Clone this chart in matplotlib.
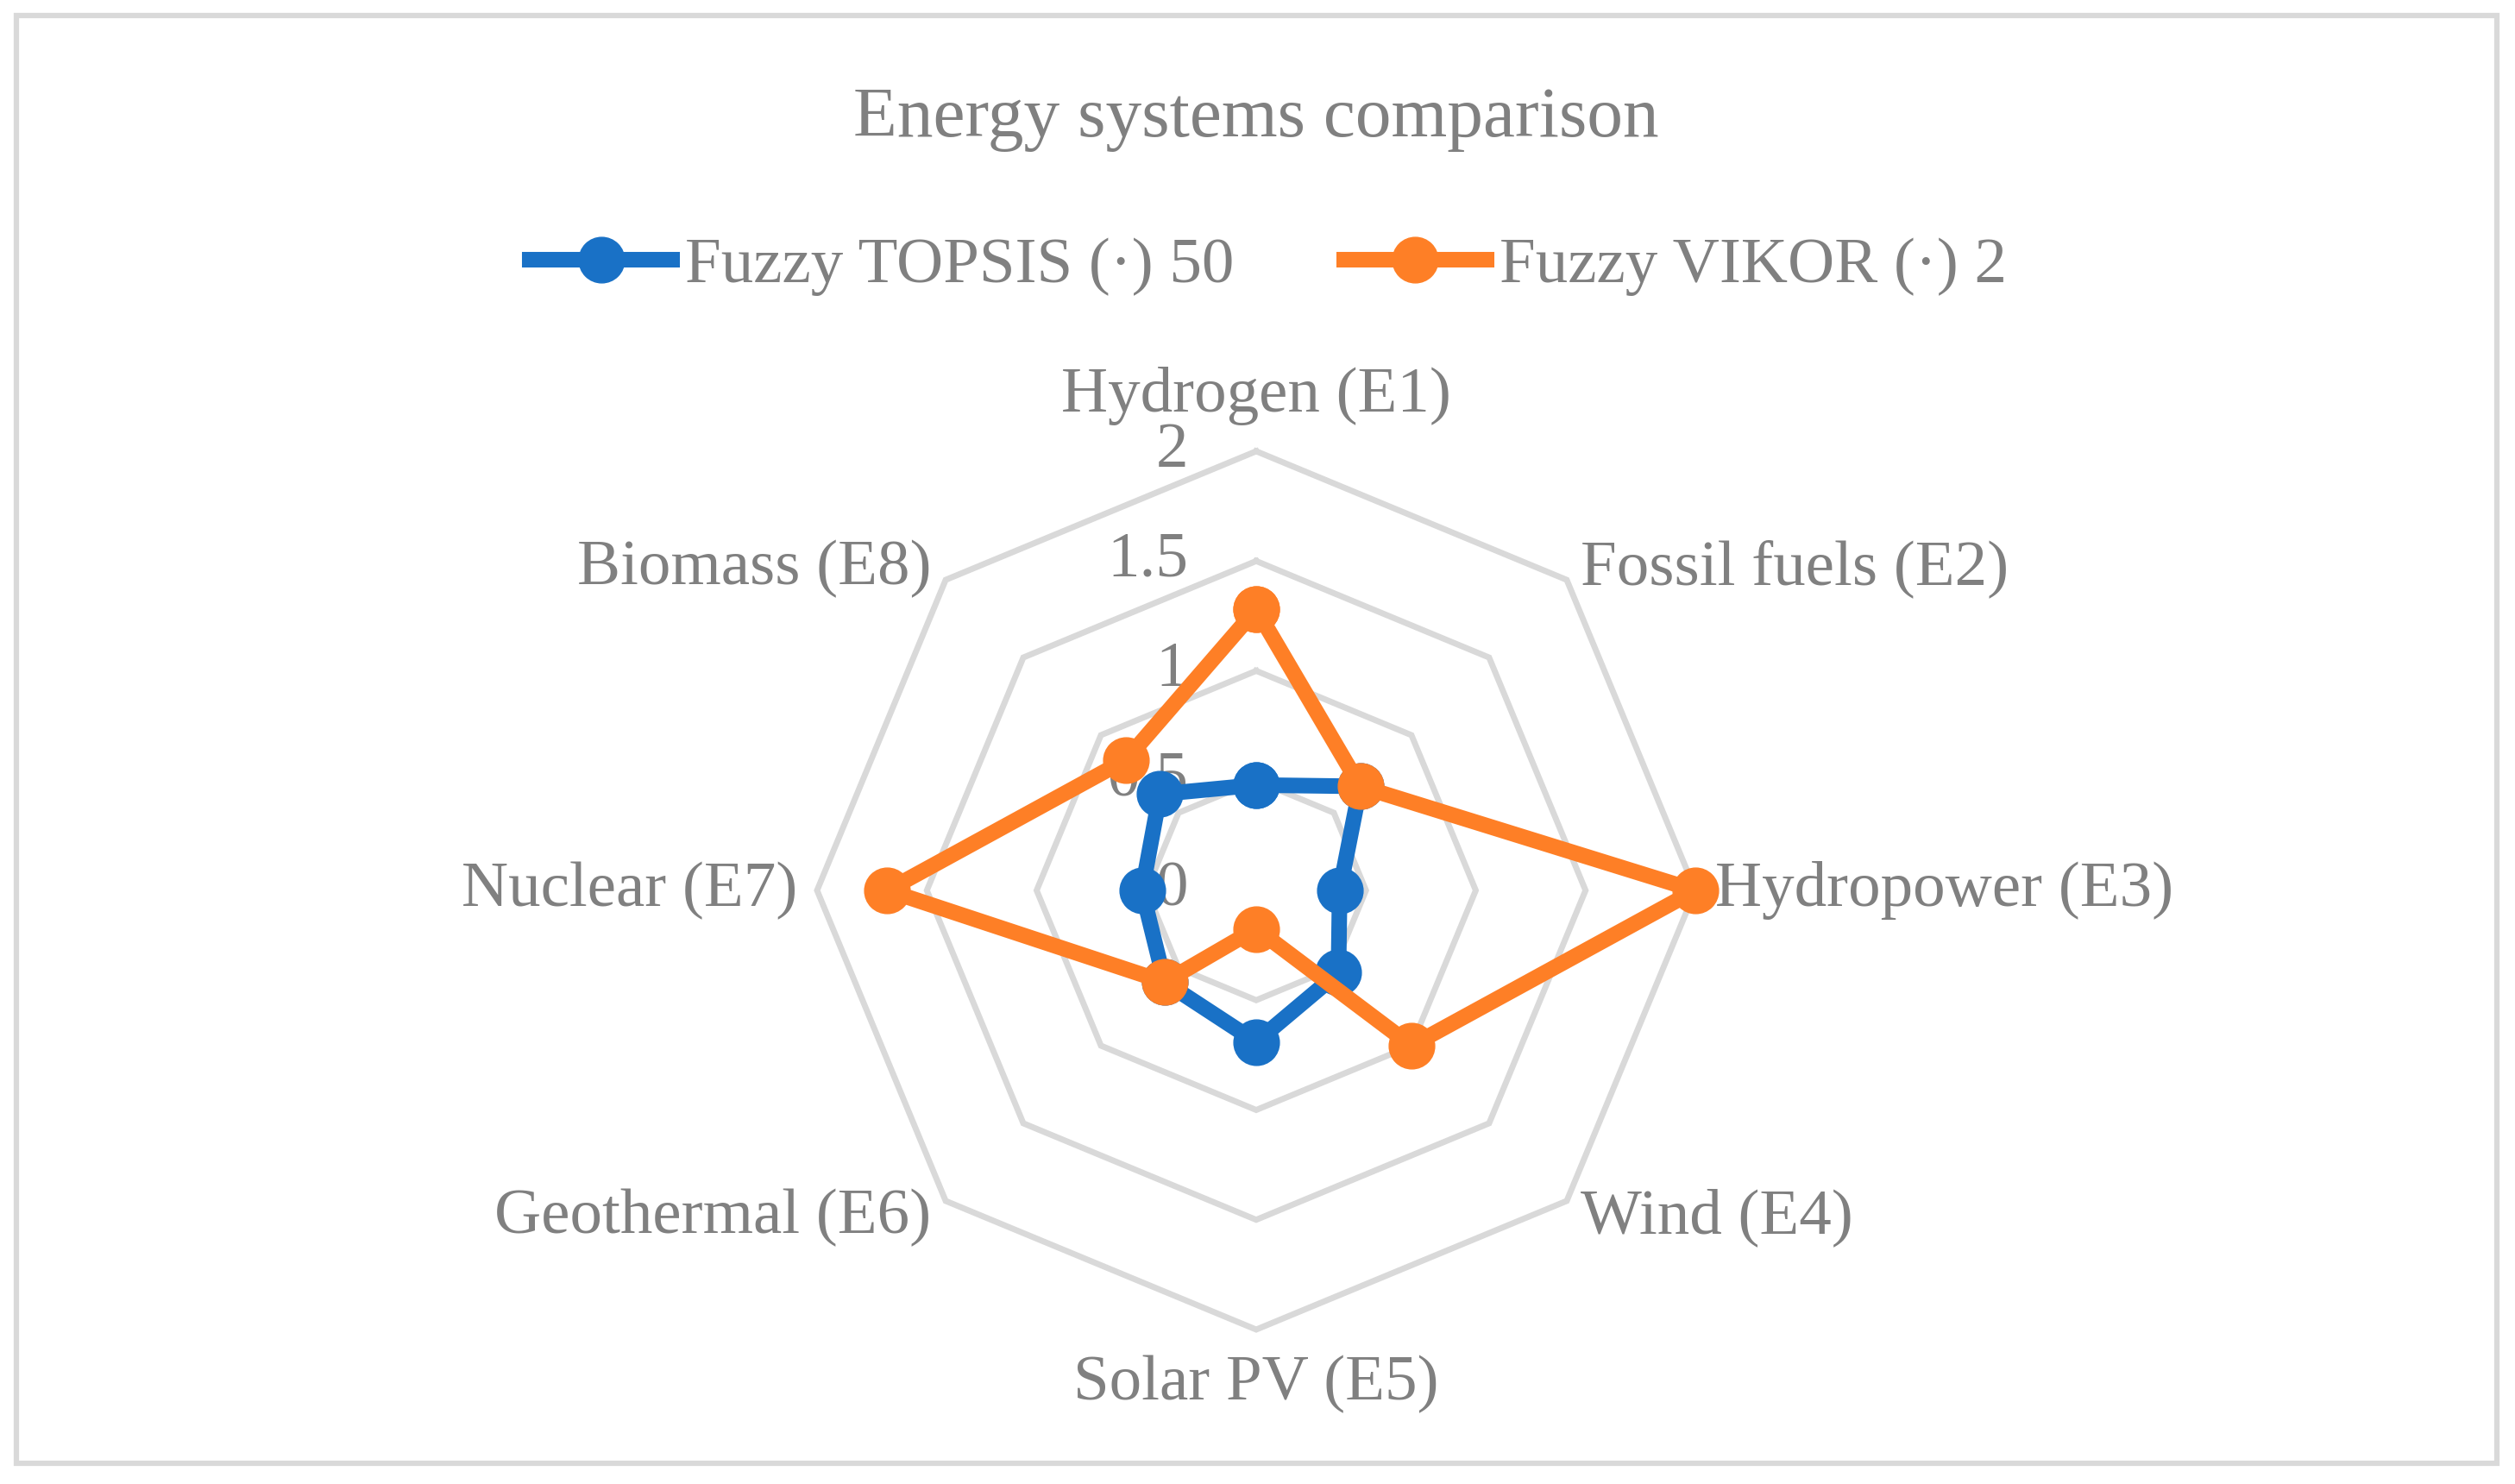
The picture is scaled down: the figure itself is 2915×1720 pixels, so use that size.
import numpy as np
import matplotlib
matplotlib.use("Agg")
import matplotlib.pyplot as plt
from matplotlib.patches import Rectangle

categories = ["Hydrogen (E1)", "Fossil fuels (E2)", "Hydropower (E3)", "Wind (E4)",
              "Solar PV (E5)", "Geothermal (E6)", "Nuclear (E7)", "Biomass (E8)"]
topsis = [0.48, 0.67, 0.38, 0.53, 0.69, 0.59, 0.52, 0.62]
vikor = [1.28, 0.67, 2.0, 1.0, 0.175, 0.59, 1.68, 0.84]
ring_values = [0.5, 1, 1.5, 2]
tick_labels = ["0", "0.5", "1", "1.5", "2"]
series_names = ["Fuzzy TOPSIS (\u00b7) 50", "Fuzzy VIKOR (\u00b7) 2"]

blue = "#1971C6"
orange = "#FE7F26"
grid_col = "#D9D9D9"
text_col = "#808080"

plt.rcParams['font.family'] = ['Liberation Serif', 'DejaVu Serif']

W, H = 2915, 1720
fig = plt.figure(figsize=(W / 100, H / 100), dpi=100)
ax = fig.add_axes([0, 0, 1, 1])
unit = 254.5  # px per data unit
cx, cy = 1456, 1720 - 1032
ax.set_xlim(-cx / unit, (W - cx) / unit)
ax.set_ylim(-cy / unit, (H - cy) / unit)
ax.axis('off')

n = len(categories)
ang = np.arange(n) * 2 * np.pi / n
s, c = np.sin(ang), np.cos(ang)

# octagon grid
for r in ring_values:
    ax.plot(np.append(r * s, r * s[0]), np.append(r * c, r * c[0]),
            color=grid_col, lw=5, zorder=1, solid_joinstyle='miter')

def closed(v):
    v = np.array(v)
    return np.append(v * s, v[0] * s[0]), np.append(v * c, v[0] * c[0])

bx, by = closed(topsis)
ox, oy = closed(vikor)
ax.plot(bx, by, color=blue, lw=13, marker='o', ms=38, zorder=3,
        label=series_names[0], solid_joinstyle='round')
ax.plot(ox, oy, color=orange, lw=13, marker='o', ms=38, zorder=4,
        label=series_names[1], solid_joinstyle='round')

# radial tick labels
for i, t in enumerate(tick_labels):
    ax.text(-0.31, i * 0.5, t, ha='right', va='center', fontsize=54,
            color=text_col, zorder=2)

# category labels
for i, lab in enumerate(categories):
    if abs(s[i]) < 0.1:
        x, y = 0, 2.25 * np.sign(c[i])
        ha = 'center'
    elif abs(c[i]) < 0.1:
        x, y = 2 * s[i] + 0.09 * np.sign(s[i]), 0
        ha = 'left' if s[i] > 0 else 'right'
    else:
        x = 2 * s[i] + 0.065 * np.sign(s[i])
        y = 2 * c[i] + 0.05 * np.sign(c[i]) * (1 if c[i] > 0 else 1.5)
        ha = 'left' if s[i] > 0 else 'right'
    ax.text(x, y, lab, ha=ha, va='center', fontsize=54, color=text_col)

fig.text(cx / W, 1 - 138 / H, "Energy systems comparison", ha='center',
         va='center', fontsize=60, color=text_col)

leg = fig.legend(loc='center', bbox_to_anchor=(1470 / W, 1 - 309 / H), ncol=2,
                 frameon=False, fontsize=54, handlelength=2.2, handletextpad=0.2,
                 columnspacing=1.7, labelcolor=text_col)

fig.patches.append(Rectangle((19 / W, 24 / H), 2875 / W, 1678 / H,
                             transform=fig.transFigure, fill=False,
                             edgecolor=grid_col, lw=4.5))

fig.savefig("out.png", dpi=100, facecolor='white')
